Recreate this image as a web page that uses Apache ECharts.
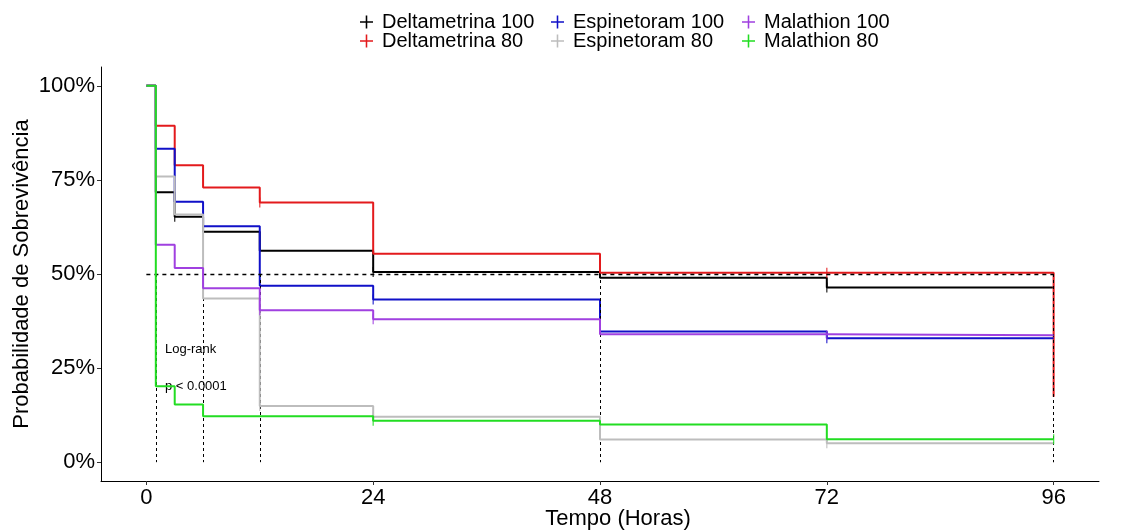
<!DOCTYPE html>
<html><head><meta charset="utf-8">
<script src="https://cdn.jsdelivr.net/npm/echarts@6/dist/echarts.min.js"></script>
<style>html,body{margin:0;padding:0;background:#fff}#c{width:1129px;height:531px}</style>
</head><body><div id="c"></div><script>
// ---- data ----
const times = [0, 1, 3, 6, 12, 24, 48, 72, 96];
const seriesNames = ['Deltametrina 100', 'Deltametrina 80', 'Espinetoram 100', 'Espinetoram 80', 'Malathion 100', 'Malathion 80'];
const deltametrina100 = [100, 71.7, 65.2, 61.2, 56.2, 50.5, 49.0, 46.4, 46.4];
const deltametrina80  = [100, 89.4, 78.9, 73.0, 69.0, 55.4, 50.3, 50.3, 17.4];
const espinetoram100  = [100, 83.3, 69.2, 62.7, 46.9, 43.2, 34.7, 32.9, 32.9];
const espinetoram80   = [100, 75.9, 65.8, 43.5, 14.9, 12.1, 6.0, 5.0, 5.0];
const malathion100    = [100, 57.8, 51.6, 46.2, 40.4, 38.0, 34.0, 33.7, 33.7];
const malathion80     = [100, 20.2, 15.3, 12.2, 12.2, 11.0, 10.0, 6.1, 6.1];
const censorTimes = [[3, 24, 72], [12, 72], [24, 72], [12, 24, 72], [12, 24, 72], [24, 96]];
const medianTimes = [1, 6, 12, 48, 96];
const medianLevel = 50;
const xTicks = [0, 24, 48, 72, 96];
const yTicks = [0, 25, 50, 75, 100];
const annotation = ['Log-rank', 'p < 0.0001'];

// ---- styles ----
const colors = ['#000000', '#e31a1c', '#1010c8', '#bdbdbd', '#a040e0', '#22dd22'];
const font = 'Liberation Sans, Arial, sans-serif';
const allValues = [deltametrina100, deltametrina80, espinetoram100, espinetoram80, malathion100, malathion80];
const plusIcon = 'path://M44,0H56V44H100V56H56V100H44V56H0V44H44Z';

const series = [];
allValues.forEach((vals, i) => {
  series.push({
    name: seriesNames[i], type: 'line', step: 'end', showSymbol: false, symbol: 'none',
    data: times.map((t, k) => [t, vals[k]]),
    lineStyle: { color: colors[i], width: 2 }, itemStyle: { color: colors[i] },
    z: 2 + i, silent: true
  });
});
allValues.forEach((vals, i) => {
  series.push({
    name: 'censor ' + i, type: 'scatter', symbol: 'rect', symbolSize: [1.3, 10],
    data: censorTimes[i].map(t => [t, vals[times.indexOf(t)]]),
    itemStyle: { color: colors[i] }, z: 2 + i, silent: true
  });
});
// median reference lines
const ml = [[{ coord: [0, medianLevel] }, { coord: [medianTimes[medianTimes.length - 1], medianLevel] }]];
medianTimes.forEach(t => ml.push([{ coord: [t, medianLevel], lineStyle: { width: 1, type: [3, 3] } }, { coord: [t, 0] }]));
series.push({
  name: 'median', type: 'line', data: [], silent: true, z: 20,
  markLine: { symbol: ['none', 'none'], silent: true, label: { show: false }, animation: false,
    lineStyle: { color: '#000', width: 1.4, type: [4, 4] }, data: ml }
});

const legendLeft = [360, 360, 551, 551, 742, 742];
const legendTop = [12, 31, 12, 31, 12, 31];
const legends = seriesNames.map((n, i) => ({
  data: [n], left: legendLeft[i], top: legendTop[i], padding: 0,
  icon: plusIcon, itemWidth: 13, itemHeight: 13, selectedMode: false,
  textStyle: { fontSize: 20, fontFamily: font, color: '#000', padding: [0, 0, 0, 4], lineHeight: 20 }
}));

const chart = echarts.init(document.getElementById('c'), null, { renderer: 'canvas' });
chart.setOption({
  animation: false,
  backgroundColor: '#fff',
  legend: legends,
  grid: { left: 101, right: 30, top: 67, bottom: 50, containLabel: false, outerBoundsMode: 'none' },
  xAxis: {
    type: 'value', min: -4.8, max: 100.8,
    name: 'Tempo (Horas)', nameLocation: 'middle', nameGap: 38, nameMoveOverlap: false,
    nameTextStyle: { fontSize: 22, fontFamily: font, color: '#000', padding: [0, 0, 0, 36], verticalAlign: 'middle' },
    axisLine: { show: true, onZero: false, lineStyle: { color: '#000', width: 1 } },
    axisTick: { show: true, length: 4, lineStyle: { color: '#333' }, customValues: xTicks },
    axisLabel: { fontSize: 22, fontFamily: font, color: '#000', margin: 6, customValues: xTicks },
    splitLine: { show: false }
  },
  yAxis: {
    type: 'value', min: -5, max: 105,
    name: 'Probabilidade de Sobrevivência', nameLocation: 'middle', nameGap: 79, nameMoveOverlap: false,
    nameTextStyle: { fontSize: 22, fontFamily: font, color: '#000', verticalAlign: 'middle' },
    axisLine: { show: true, onZero: false, lineStyle: { color: '#000', width: 1 } },
    axisTick: { show: true, length: 4, lineStyle: { color: '#333' }, customValues: yTicks },
    axisLabel: { fontSize: 22, fontFamily: font, color: '#000', margin: 6, customValues: yTicks, formatter: v => v + '%' },
    splitLine: { show: false }
  },
  graphic: [
    { type: 'text', left: 165, top: 343, style: { text: annotation[0], fontSize: 13, fontFamily: font, fill: '#000' } },
    { type: 'text', left: 165, top: 380, style: { text: annotation[1], fontSize: 13, fontFamily: font, fill: '#000' } }
  ],
  series: series
});
</script></body></html>
